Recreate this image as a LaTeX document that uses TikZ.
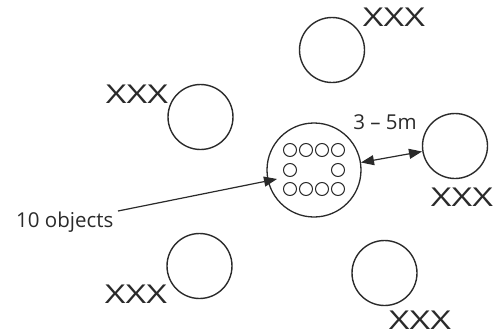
\documentclass[tikz,border=0pt]{standalone}
\usepackage{fontspec}
\setmainfont{Open Sans}
\usetikzlibrary{arrows.meta}
\definecolor{ink}{HTML}{2A2A2A}
\begin{document}
\begin{tikzpicture}[x=1pt,y=-1pt,
  bigcirc/.style={circle,draw=ink,line width=1.4pt,minimum size=65pt,inner sep=0pt},
  centercirc/.style={circle,draw=ink,line width=1.3pt,minimum size=94pt,inner sep=0pt},
  smallcirc/.style={circle,draw=ink,line width=1pt,minimum size=13pt,inner sep=0pt},
  xlabel/.style={font=\fontsize{26}{26}\selectfont,text=ink,inner sep=0pt,xscale=1.38},
  lbl/.style={font=\fontsize{20.5}{22}\selectfont,text=ink,inner sep=0pt},
  arr/.style={draw=ink,line width=1.2pt,-{Triangle[length=13pt,width=10pt]}},
  darr/.style={draw=ink,line width=1.2pt,{Triangle[length=13pt,width=10pt]}-{Triangle[length=13pt,width=10pt]}}]
\useasboundingbox (0,0) rectangle (499,335);
% circles
\node[bigcirc] (ctop) at (332,50) {};
\node[bigcirc] (cleft) at (200.5,117) {};
\node[bigcirc] (cright) at (455,146) {};
\node[bigcirc] (cbl) at (199.5,266) {};
\node[bigcirc] (cbr) at (384.5,273) {};
\node[centercirc] (cc) at (314,170) {};
% small circles
\foreach \x [count=\i] in {290,306,322,338} {
  \node[smallcirc] (st\i) at (\x,150) {};
  \node[smallcirc] (sb\i) at (\x,189) {};
}
\node[smallcirc] (sm1) at (290,170) {};
\node[smallcirc] (sm2) at (338,170) {};
% XXX labels
\node[xlabel] (xtop) at (394,17) {XXX};
\node[xlabel] (xleft) at (137,94) {XXX};
\node[xlabel] (xright) at (462,197) {XXX};
\node[xlabel] (xbl) at (136,294) {XXX};
\node[xlabel] (xbr) at (420,320) {XXX};
% text labels
\node[lbl] (dist) at (385,122) {3 – 5m};
\node[lbl,anchor=north west] (obj) at (16,212) {10 objects};
\coordinate (objstart) at (118,211);
\coordinate (objtip) at (277,179);
\coordinate (dl) at (361,162.5);
\coordinate (dr) at (422,151.5);
\draw[arr] (objstart) -- (objtip);
\draw[darr] (dl) -- (dr);
\end{tikzpicture}
\end{document}
